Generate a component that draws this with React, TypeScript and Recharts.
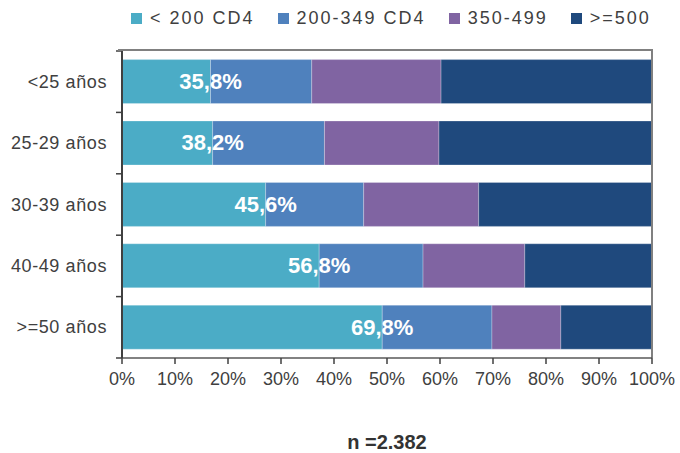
import { Bar, BarChart, LabelList, ReferenceLine, XAxis, YAxis } from "recharts";

const AGES = ["<25 años", "25-29 años", "30-39 años", "40-49 años", ">=50 años"];
const CD4_LT200 = [16.7, 17.1, 27.1, 37.2, 49.1];
const CD4_200_349 = [19.1, 21.1, 18.5, 19.6, 20.7];
const CD4_350_499 = [24.4, 21.6, 21.7, 19.2, 13.0];
const CD4_GE500 = [39.8, 40.2, 32.7, 24.0, 17.2];
const CUM_LABELS = ["35,8%", "38,2%", "45,6%", "56,8%", "69,8%"];
const X_TICKS = [0, 10, 20, 30, 40, 50, 60, 70, 80, 90, 100];
const SERIES = [
  { key: "lt200", name: "< 200 CD4", color: "#4BACC6" },
  { key: "s200", name: "200-349 CD4", color: "#4F81BD" },
  { key: "s350", name: "350-499", color: "#8064A2" },
  { key: "ge500", name: ">=500", color: "#1F497D" },
];

const data = AGES.map((age, i) => ({
  age,
  lt200: CD4_LT200[i],
  s200: CD4_200_349[i],
  s350: CD4_350_499[i],
  ge500: CD4_GE500[i],
  label: CUM_LABELS[i],
}));

const W = 680;
const H = 453;
const TOP = 51;
const RIGHT = 28;
const Y_W = 122;
const X_H = 95;
const HALF_STEP = (H - TOP - X_H) / AGES.length / 2;
const FONT = "'Liberation Sans', Arial, sans-serif";

function YTick(props: any) {
  const { y, payload, index } = props;
  return (
    <g>
      <text
        x={Y_W - 15}
        y={y}
        textAnchor="end"
        dominantBaseline="central"
        fontSize={18}
        letterSpacing={0.6}
        fill="#404040"
        fontFamily={FONT}
      >
        {payload.value}
      </text>
      <line x1={Y_W - 6} x2={Y_W} y1={y - HALF_STEP} y2={y - HALF_STEP} stroke="#404040" strokeWidth={1.5} />
      {index === AGES.length - 1 && (
        <line x1={Y_W - 6} x2={Y_W} y1={y + HALF_STEP} y2={y + HALF_STEP} stroke="#404040" strokeWidth={1.5} />
      )}
    </g>
  );
}

function CumLabel(props: any) {
  const { x, y, width, height, value } = props;
  return (
    <text
      x={x + width}
      y={y + height / 2}
      textAnchor="middle"
      dominantBaseline="central"
      fill="#ffffff"
      fontSize={22}
      fontWeight="bold"
      fontFamily={FONT}
    >
      {value}
    </text>
  );
}

function LegendBox() {
  return (
    <div
      style={{
        position: "absolute",
        top: 8,
        left: 131,
        display: "flex",
        alignItems: "center",
        fontFamily: FONT,
      }}
    >
      {SERIES.map((s) => (
        <div key={s.key} style={{ display: "flex", alignItems: "center", marginRight: 23 }}>
          <span style={{ width: 11, height: 11, background: s.color, marginRight: 8 }} />
          <span style={{ fontSize: 18, letterSpacing: 2, color: "#404040" }}>{s.name}</span>
        </div>
      ))}
    </div>
  );
}

export default function App() {
  return (
    <div style={{ position: "relative", width: W, height: H, background: "#fff" }}>
      <style>{`body{margin:0}`}</style>
      <LegendBox />
      <BarChart
        width={W}
        height={H}
        data={data}
        layout="vertical"
        barCategoryGap="14%"
        margin={{ top: TOP, right: RIGHT, left: 0, bottom: 0 }}
      >
        <XAxis
          type="number"
          domain={[0, 100]}
          ticks={X_TICKS}
          tickFormatter={(v) => `${v}%`}
          height={X_H}
          tick={{ fill: "#404040", fontSize: 18, fontFamily: FONT }}
          tickMargin={8}
          tickSize={6}
          tickLine={{ stroke: "#404040", strokeWidth: 1.5 }}
          axisLine={{ stroke: "#595959", strokeWidth: 1.5 }}
          label={{
            value: "n =2.382",
            position: "insideBottom",
            offset: 4,
            fill: "#333333",
            fontSize: 20,
            fontWeight: "bold",
            fontFamily: FONT,
          }}
        />
        <YAxis
          type="category"
          dataKey="age"
          width={Y_W}
          tick={<YTick />}
          tickLine={false}
          axisLine={{ stroke: "#404040", strokeWidth: 2 }}
        />
        <ReferenceLine x={100} stroke="#808080" strokeWidth={2} />
        {SERIES.map((s) => (
          <Bar
            key={s.key}
            dataKey={s.key}
            name={s.name}
            stackId="a"
            fill={s.color}
            stroke="rgba(255,255,255,0.35)"
            strokeWidth={0.75}
            isAnimationActive={false}
          >
            {s.key === "lt200" && <LabelList dataKey="label" content={<CumLabel />} />}
          </Bar>
        ))}
      </BarChart>
      {/* top edge of the plot frame */}
      <div
        style={{
          position: "absolute",
          zIndex: 2,
          top: TOP - 2,
          left: Y_W - 4,
          width: W - RIGHT - Y_W + 5,
          height: 2,
          background: "#808080",
          pointerEvents: "none",
        }}
      />
    </div>
  );
}
